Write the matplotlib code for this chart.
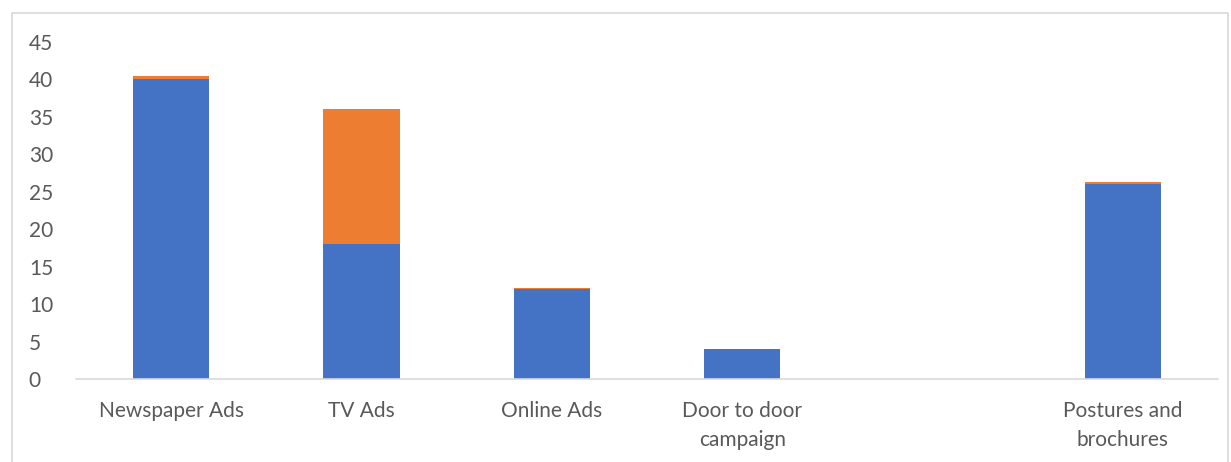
import numpy as np
import matplotlib.pyplot as plt
from matplotlib.patches import Rectangle

categories = ["Newspaper Ads", "TV Ads", "Online Ads", "Door to door\ncampaign", "",
              "Postures and\nbrochures"]
series_a = [40, 18, 12, 4, 0, 26]
series_b = [0.5, 18, 0.15, 0.05, 0, 0.3]
y_ticks = [0, 5, 10, 15, 20, 25, 30, 35, 40, 45]

plt.rcParams['font.family'] = ['Lato', 'DejaVu Sans']

W, H = 1231, 462
fig = plt.figure(figsize=(W / 100, H / 100), dpi=100)

# chart area border
fig.patches.append(Rectangle((12 / W, -0.1), (1228 - 12) / W, (H - 13) / H + 0.1,
                             transform=fig.transFigure, fill=False,
                             edgecolor='#d9d9d9', linewidth=1.2))

ax = fig.add_axes([76 / W, (H - 379) / H, (1218 - 76) / W, (379 - 42) / H])

x = np.arange(len(categories))
ax.bar(x, series_a, width=0.4, color='#4472C4')
ax.bar(x, series_b, width=0.4, bottom=series_a, color='#ED7D31')

ax.set_xlim(-0.5, len(categories) - 0.5)
ax.set_ylim(0, 45)
ax.set_yticks(y_ticks)
ax.set_xticks(x)
ax.set_xticklabels(categories, linespacing=1.55)

for side in ['top', 'right', 'left']:
    ax.spines[side].set_visible(False)
ax.spines['bottom'].set_color('#d9d9d9')
ax.spines['bottom'].set_linewidth(1.2)
ax.tick_params(axis='both', length=0, labelsize=15, colors='#595959')
ax.tick_params(axis='y', pad=34)
ax.tick_params(axis='x', pad=16)
for lbl in ax.get_yticklabels():
    lbl.set_horizontalalignment('left')

fig.savefig('out.png', dpi=100)
